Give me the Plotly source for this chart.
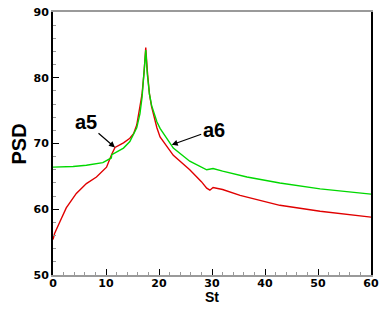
import plotly.graph_objects as go

# St / PSD
st_a5 = [0, 0.3, 1.3, 2.5, 4.4, 6.3, 8.2, 8.9, 10.1, 11.1, 11.7, 13.3, 14.5, 15.2,
         15.8, 16.4, 16.8, 17.2, 17.5, 17.8, 18.2, 18.6, 19.6, 20.2, 22.7, 25.8,
         28, 29, 29.6, 30.2, 32, 35.3, 42.8, 50.4, 60]
psd_a5 = [55.4, 56.3, 58.1, 60.2, 62.4, 63.9, 64.9, 65.5, 66.4, 68.4, 69.4, 70.1, 70.8, 71.5,
          72.8, 75.6, 77.5, 81.0, 84.6, 81.0, 77.5, 75.6, 72.4, 71.0, 68.2, 66.0,
          64.2, 63.2, 62.9, 63.3, 63.0, 62.1, 60.6, 59.7, 58.8]

st_a6 = [0, 3.8, 6.3, 9.4, 11.0, 11.1, 13.3, 14.5, 15.8, 16.4, 16.8, 17.1, 17.5,
         17.8, 18.2, 18.6, 19.6, 20.2, 22.7, 25.8, 29, 30.2, 32, 36.6, 42.8, 50.4, 60]
psd_a6 = [66.4, 66.5, 66.7, 67.1, 67.8, 68.3, 69.3, 70.3, 72.4, 74.5, 77.0, 80.0, 84.2,
          80.5, 77.5, 75.8, 73.3, 72.3, 69.3, 67.3, 66.0, 66.2, 65.8, 64.9, 64.0, 63.1, 62.3]

bold = dict(family="DejaVu Sans", size=11, color="black", weight="bold")

fig = go.Figure()
fig.add_trace(go.Scatter(x=st_a5, y=psd_a5, mode="lines",
                         line=dict(color="#e00000", width=1.4)))
fig.add_trace(go.Scatter(x=st_a6, y=psd_a6, mode="lines",
                         line=dict(color="#00d800", width=1.4)))

fig.update_layout(
    width=384, height=311,
    margin=dict(l=53, r=13, t=12, b=36),
    plot_bgcolor="white", paper_bgcolor="white",
    showlegend=False,
    xaxis=dict(range=[0, 60], dtick=10, showgrid=False, zeroline=False,
               ticks="inside", ticklen=6, tickcolor="black", tickwidth=1,
               minor=dict(dtick=2, ticks="inside", ticklen=3, tickcolor="#999999"),
               showline=True, linecolor="#9a9a9a", linewidth=2, mirror=True,
               tickfont=bold, ticklabelstandoff=-3, automargin=False),
    yaxis=dict(range=[50, 90], dtick=10, showgrid=False, zeroline=False,
               ticks="inside", ticklen=6, tickcolor="black", tickwidth=1,
               minor=dict(dtick=2, ticks="inside", ticklen=3, tickcolor="#999999"),
               showline=True, linecolor="black", linewidth=2, mirror=True,
               tickfont=bold, automargin=False),
)

title_font = dict(family="Liberation Sans", color="black", weight="bold")
fig.add_annotation(text="PSD", xref="paper", yref="paper", x=-0.107, y=0.5,
                   textangle=-90, showarrow=False, xanchor="center", yanchor="middle",
                   font=dict(size=20, **title_font))
fig.add_annotation(text="St", xref="paper", yref="paper", x=0.5, y=-0.085,
                   showarrow=False, xanchor="center", yanchor="middle",
                   font=dict(size=14, **title_font))

# labels with arrows
fig.add_annotation(text="a5", x=11.7, y=69.4, ax=-29, ay=-25,
                   showarrow=True, arrowhead=2, arrowsize=1, arrowwidth=1.2,
                   arrowcolor="black", font=dict(size=20, **title_font))
fig.add_annotation(text="a6", x=22.4, y=69.8, ax=42, ay=-15,
                   showarrow=True, arrowhead=2, arrowsize=1, arrowwidth=1.2,
                   arrowcolor="black", font=dict(size=20, **title_font))

fig.write_html("out.html", config={"displayModeBar": False},
               post_script="document.body.style.margin='0';")
